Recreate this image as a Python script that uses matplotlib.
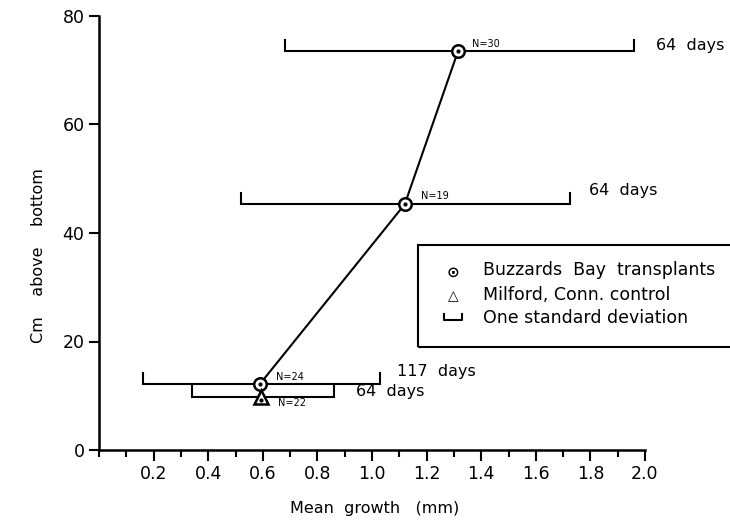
import matplotlib
matplotlib.use("Agg")
import matplotlib.pyplot as plt
from matplotlib.patches import Rectangle
from matplotlib.ticker import MultipleLocator, FixedLocator

# Data
bb_x = [0.59, 1.12, 1.315]          # Buzzards Bay transplants mean growth (mm)
bb_y = [12.2, 45.3, 73.5]           # Cm above bottom
bb_lo = [0.16, 0.52, 0.68]          # SD bar left end
bb_hi = [1.03, 1.725, 1.96]         # SD bar right end
bb_n = ["N=24", "N=19", "N=30"]
bb_days = ["117  days", "64  days", "64  days"]

mc_x = [0.595]                      # Milford, Conn. control
mc_y = [9.8]
mc_lo = [0.34]
mc_hi = [0.86]
mc_n = ["N=22"]
mc_days = ["64  days"]

xticks = [0.2, 0.4, 0.6, 0.8, 1.0, 1.2, 1.4, 1.6, 1.8, 2.0]
xticklabels = ["0.2", "0.4", "0.6", "0.8", "1.0", "1.2", "1.4", "1.6", "1.8", "2.0"]
yticks = [0, 20, 40, 60, 80]

plt.rcParams['font.family'] = ['DejaVu Sans']

fig = plt.figure(figsize=(7.3, 5.21), dpi=100)
ax = fig.add_axes([99/730, (521-450)/521, (645-99)/730, (450-16)/521])
ax.set_xlim(0, 2.0)
ax.set_ylim(0, 80)

def fx(px):
    return px / 730
def fy(py):
    return (521 - py) / 521

for s in ["top", "right"]:
    ax.spines[s].set_visible(False)
for s in ["left", "bottom"]:
    ax.spines[s].set_linewidth(1.8)

ax.xaxis.set_major_locator(FixedLocator(xticks))
ax.set_xticklabels(xticklabels)
ax.xaxis.set_minor_locator(MultipleLocator(0.1))
ax.yaxis.set_major_locator(FixedLocator(yticks))
ax.tick_params(axis="x", which="major", direction="out", length=8, width=1.5, labelsize=12.5, pad=3)
ax.tick_params(axis="x", which="minor", direction="out", length=5, width=1.5)
ax.tick_params(axis="y", which="major", direction="out", length=7, width=1.5, labelsize=12.5)

fig.text(fx(375), fy(509), "Mean  growth   (mm)", fontsize=11.5, ha="center", va="center")
fig.text(fx(39), fy(256), "Cm    above    bottom", fontsize=11.5, ha="center", va="center", rotation=90)

def sd_bar(lo, hi, y, h=2.0):
    ax.plot([lo, lo, hi, hi], [y + h, y, y, y + h], color="black", lw=1.5, solid_joinstyle="miter", zorder=2)

for lo, hi, y in zip(bb_lo, bb_hi, bb_y):
    sd_bar(lo, hi, y)
for lo, hi, y in zip(mc_lo, mc_hi, mc_y):
    sd_bar(lo, hi, y)

ax.plot(bb_x, bb_y, color="black", lw=1.5, zorder=3)
ax.plot(bb_x, bb_y, "o", ms=9, mfc="white", mec="black", mew=1.8, zorder=4, clip_on=False)
ax.plot(bb_x, bb_y, "o", ms=2, color="black", zorder=5, clip_on=False)
ax.plot(mc_x, mc_y, "^", ms=10, mfc="white", mec="black", mew=1.8, zorder=4)
ax.plot(mc_x, [v - 0.6 for v in mc_y], "o", ms=2, color="black", zorder=5)

# N labels
n_off = [(0.06, 1.3), (0.06, 1.5), (0.05, 1.4)]
for (dx, dy), x, y, t in zip(n_off, bb_x, bb_y, bb_n):
    ax.text(x + dx, y + dy, t, fontsize=7, ha="left", va="center")
for x, y, t in zip(mc_x, mc_y, mc_n):
    ax.text(x + 0.06, y - 1.2, t, fontsize=7, ha="left", va="center")

# days labels
ax.text(bb_hi[2] + 0.08, bb_y[2] + 1.0, bb_days[2], fontsize=11.5, ha="left", va="center", clip_on=False)
ax.text(bb_hi[1] + 0.07, bb_y[1] + 2.6, bb_days[1], fontsize=11.5, ha="left", va="center")
ax.text(bb_hi[0] + 0.06, bb_y[0] + 2.2, bb_days[0], fontsize=11.5, ha="left", va="center")
ax.text(mc_hi[0] + 0.08, mc_y[0] + 1.0, mc_days[0], fontsize=11.5, ha="left", va="center")

# Legend box (figure pixel coordinates)
fig.patches.append(Rectangle((fx(418), fy(347)), fx(740) - fx(418), fy(245) - fy(347),
                             transform=fig.transFigure, fill=False, lw=1.5, ec="black"))
lx = 453
fig.text(fx(lx), fy(272), "\u2299", fontsize=11, ha="center", va="center", fontweight="bold")
fig.text(fx(lx), fy(296), "\u25b3", fontsize=10, ha="center", va="center", fontweight="bold")
fig.lines.append(plt.Line2D([fx(lx - 9), fx(lx - 9), fx(lx + 9), fx(lx + 9)],
                            [fy(314), fy(320), fy(320), fy(314)],
                            transform=fig.transFigure, color="black", lw=1.5))
tx = 483
fig.text(fx(tx), fy(270), "Buzzards  Bay  transplants", fontsize=12.5, ha="left", va="center")
fig.text(fx(tx), fy(295), "Milford, Conn. control", fontsize=12.5, ha="left", va="center")
fig.text(fx(tx), fy(318), "One standard deviation", fontsize=12.5, ha="left", va="center")

fig.savefig("out.png", dpi=100)
